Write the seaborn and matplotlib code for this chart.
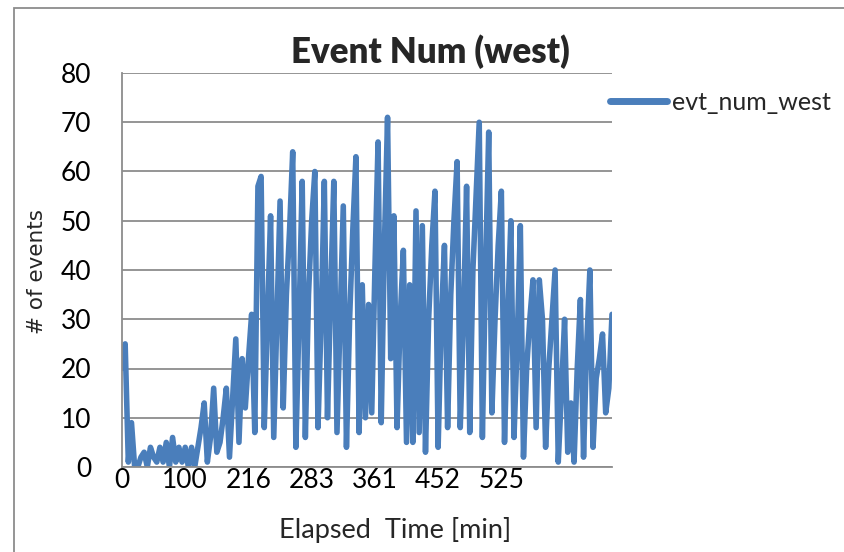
import matplotlib
matplotlib.use("Agg")
import matplotlib.pyplot as plt
import seaborn as sns
import pandas as pd
from matplotlib.patches import Rectangle

# ---- data ----
evt_num_west = [
    20, 25, 1, 9, 0, 0, 2, 3, 0, 4,
    2, 1, 4, 1, 5, 0, 6, 1, 4, 1,
    4, 0, 4, 0, 4, 8, 13, 1, 6, 16,
    3, 5, 10, 16, 2, 14, 26, 5, 22, 12,
    22, 31, 7, 57, 59, 8, 30, 51, 6, 30,
    54, 12, 35, 48, 64, 4, 30, 58, 6, 35,
    50, 60, 8, 30, 58, 10, 35, 58, 7, 30,
    53, 4, 30, 48, 63, 7, 37, 10, 33, 11,
    40, 66, 9, 45, 71, 22, 51, 8, 30, 44,
    5, 37, 5, 52, 7, 49, 3, 30, 45, 56,
    4, 30, 45, 8, 35, 50, 62, 8, 30, 57,
    7, 40, 55, 70, 6, 40, 68, 11, 30, 45,
    56, 5, 30, 50, 6, 25, 49, 2, 20, 30,
    38, 8, 38, 30, 4, 20, 30, 40, 1, 15,
    30, 3, 13, 1, 20, 34, 2, 25, 40, 4,
    18, 22, 27, 11, 16, 31,
]
tick_positions = [0, 20, 40, 60, 80, 100, 120]
tick_labels = ["0", "100", "216", "283", "361", "452", "525"]
y_ticks = [0, 10, 20, 30, 40, 50, 60, 70, 80]

df = pd.DataFrame({"idx": range(len(evt_num_west)), "evt_num_west": evt_num_west})

sns.set_theme(style="white")
plt.rcParams["font.family"] = ["Lato", "DejaVu Sans"]

fig = plt.figure(figsize=(8.45, 5.52), dpi=100)
ax = fig.add_axes([122 / 845, 1 - 467 / 552, (612 - 122) / 845, (467 - 73) / 552])

blue = "#4a7ebb"
sns.lineplot(data=df, x="idx", y="evt_num_west", ax=ax, color=blue,
             linewidth=4.0, label="evt_num_west", solid_joinstyle="round",
             solid_capstyle="round")

ax.set_xlim(0, len(evt_num_west) - 1)
ax.set_ylim(0, 80)
ax.set_yticks(y_ticks)
ax.set_xticks(tick_positions)
ax.set_xticklabels(tick_labels)
ax.tick_params(axis="both", length=0, labelsize=19, colors="black")
ax.tick_params(axis="y", pad=22)
ax.tick_params(axis="x", pad=1)
ax.yaxis.grid(True, color="#8c8c8c", linewidth=1.3)
ax.xaxis.grid(False)
for s in ["top", "right"]:
    ax.spines[s].set_visible(False)
for s in ["left", "bottom"]:
    ax.spines[s].set_color("#8c8c8c")
    ax.spines[s].set_linewidth(1.3)
ax.set_axisbelow(True)
ax.set_xlabel("")
ax.set_ylabel("")

# legend outside right
leg = ax.legend(loc="upper left", bbox_to_anchor=(0.995, 0.955), frameon=False,
                fontsize=18, handlelength=2.3, handletextpad=0.2,
                borderaxespad=0, borderpad=0)
for line in leg.get_lines():
    line.set_linewidth(5)

fig.text(430 / 845, 1 - 52 / 552, "Event Num (west)", ha="center", va="center",
         fontsize=25, fontweight="heavy")
fig.text(395 / 845, 1 - 530 / 552, "Elapsed  Time [min]", ha="center", va="center",
         fontsize=19.5)
fig.text(37 / 845, 1 - 272 / 552, "# of events", ha="center", va="center",
         rotation=90, fontsize=15.5, family="DejaVu Sans")

# chart-area border
fig.patches.append(Rectangle((14 / 845, -0.01), 1.2, 1 - 8 / 552 + 0.01,
                             transform=fig.transFigure, fill=False,
                             edgecolor="#8c8c8c", linewidth=1.3))

fig.savefig("out.png", dpi=100)
